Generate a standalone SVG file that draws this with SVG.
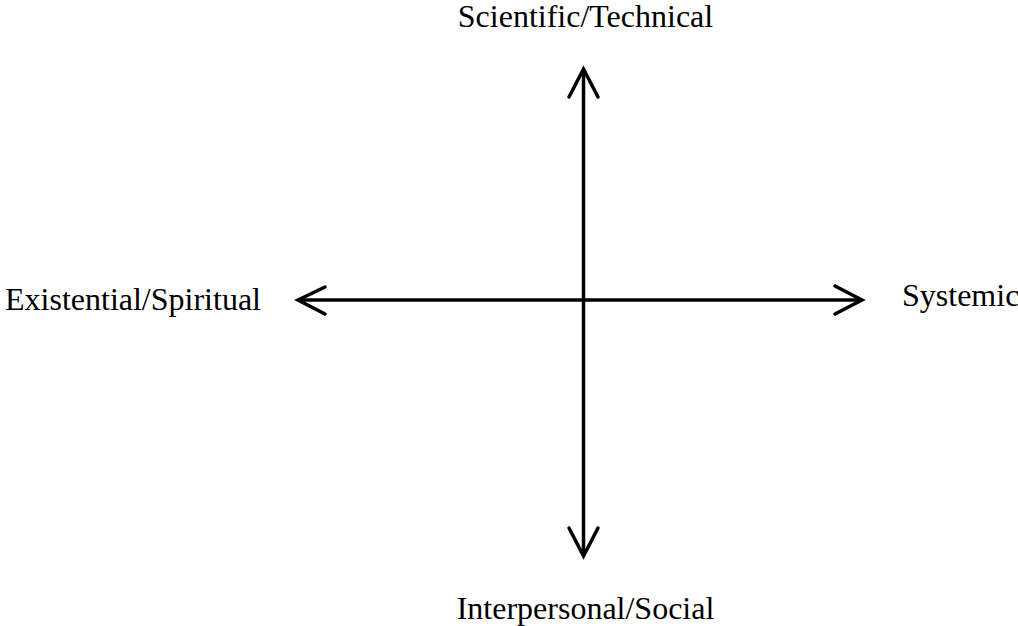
<svg xmlns="http://www.w3.org/2000/svg" width="1018" height="626" viewBox="0 0 1018 626">
<style>
text{font-family:"Liberation Serif","Times New Roman",serif;font-size:32px;fill:#000}
.ax{stroke:#000;stroke-width:3.5;fill:none}
.hd{stroke:#000;stroke-width:3.5;fill:none;stroke-linecap:round;stroke-linejoin:miter}
</style>
<rect width="1018" height="626" fill="#fff"/>
<g id="connectors">
<line class="ax" x1="583.5" y1="70" x2="583.5" y2="555"/>
<line class="ax" x1="299" y1="300" x2="861" y2="300"/>
<polyline class="hd" points="569,97 583.5,69 598,97"/>
<polyline class="hd" points="569,528 583.5,556 598,528"/>
<polyline class="hd" points="325,287 298,300 325,314"/>
<polyline class="hd" points="835,286 862,300 835,314"/>
</g>
<g id="n-top"><text x="585.5" y="27" text-anchor="middle">Scientific/Technical</text></g>
<g id="n-left"><text x="5" y="310">Existential/Spiritual</text></g>
<g id="n-right"><text x="902" y="306">Systemic</text></g>
<g id="n-bottom"><text x="585.5" y="619" text-anchor="middle">Interpersonal/Social</text></g>
</svg>
